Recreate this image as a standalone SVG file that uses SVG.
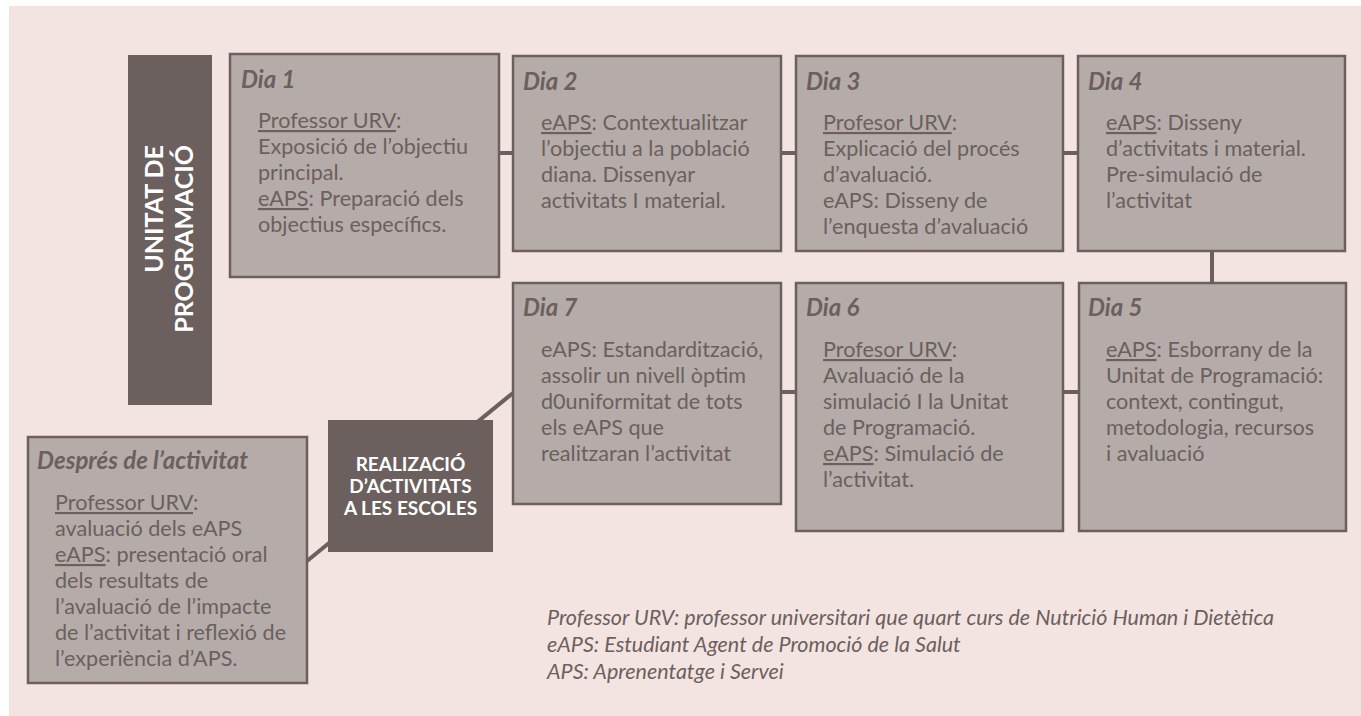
<svg xmlns="http://www.w3.org/2000/svg" width="1361" height="716" viewBox="0 0 1361 716">
<style>
.bg{fill:#f4e4e1}
.box{fill:#b5acaa;stroke:#6b605d;stroke-width:2.5}
.dark{fill:#6b605d}
.conn{stroke:#6b605d;stroke-width:4;fill:none}
text{font-family:Lato,"Liberation Sans",sans-serif;fill:#6b605d}
.title{font-size:24px;font-style:italic;font-weight:bold}
.body{font-size:21.6px}
.u{text-decoration:underline}
.lbl{fill:#ffffff;font-weight:bold}
.foot{font-size:21.5px;font-style:italic}
</style>
<rect x="0" y="0" width="1361" height="716" fill="#ffffff"/>
<rect class="bg" x="9" y="6" width="1352" height="710"/>
<g id="connectors">
<line class="conn" x1="499" y1="153" x2="513" y2="153"/>
<line class="conn" x1="781" y1="153" x2="796" y2="153"/>
<line class="conn" x1="1063" y1="153" x2="1078" y2="153"/>
<line class="conn" x1="1212" y1="251" x2="1212" y2="283"/>
<line class="conn" x1="1063" y1="392" x2="1079" y2="392"/>
<line class="conn" x1="781" y1="392" x2="796" y2="392"/>
<line class="conn" x1="513" y1="393" x2="307" y2="561"/>
</g>
<g id="unitat">
<rect class="dark" x="128" y="55" width="84" height="350"/>
<text class="lbl" font-size="25" text-anchor="end" transform="translate(163,145) rotate(-90)"><tspan x="0" y="0">UNITAT DE</tspan><tspan x="0" y="30">PROGRAMACIÓ</tspan></text>
</g>
<g id="dia1">
<rect class="box" x="230" y="54" width="269" height="223"/>
<text class="title" x="241" y="88">Dia 1</text>
<text class="body"><tspan x="258" y="128"><tspan class="u">Professor URV</tspan>:</tspan><tspan x="258" y="154">Exposició de l’objectiu</tspan><tspan x="258" y="180">principal.</tspan><tspan x="258" y="206"><tspan class="u">eAPS</tspan>: Preparació dels</tspan><tspan x="258" y="232">objectius específics.</tspan></text>
</g>
<g id="dia2">
<rect class="box" x="513" y="56" width="268" height="195"/>
<text class="title" x="523" y="90">Dia 2</text>
<text class="body"><tspan x="541" y="130"><tspan class="u">eAPS</tspan>: Contextualitzar</tspan><tspan x="541" y="156">l’objectiu a la població</tspan><tspan x="541" y="182">diana. Dissenyar</tspan><tspan x="541" y="208">activitats I material.</tspan></text>
</g>
<g id="dia3">
<rect class="box" x="796" y="56" width="267" height="195"/>
<text class="title" x="806" y="90">Dia 3</text>
<text class="body"><tspan x="823" y="130"><tspan class="u">Profesor URV</tspan>:</tspan><tspan x="823" y="156">Explicació del procés</tspan><tspan x="823" y="182">d’avaluació.</tspan><tspan x="823" y="208">eAPS: Disseny de</tspan><tspan x="823" y="234">l’enquesta d’avaluació</tspan></text>
</g>
<g id="dia4">
<rect class="box" x="1078" y="56" width="267" height="195"/>
<text class="title" x="1088" y="90">Dia 4</text>
<text class="body"><tspan x="1106" y="130"><tspan class="u">eAPS</tspan>: Disseny</tspan><tspan x="1106" y="156">d’activitats i material.</tspan><tspan x="1106" y="182">Pre-simulació de</tspan><tspan x="1106" y="208">l’activitat</tspan></text>
</g>
<g id="dia5">
<rect class="box" x="1079" y="283" width="267" height="248"/>
<text class="title" x="1088" y="316">Dia 5</text>
<text class="body"><tspan x="1106" y="357"><tspan class="u">eAPS</tspan>: Esborrany de la</tspan><tspan x="1106" y="383">Unitat de Programació:</tspan><tspan x="1106" y="409">context, contingut,</tspan><tspan x="1106" y="435">metodologia, recursos</tspan><tspan x="1106" y="461">i avaluació</tspan></text>
</g>
<g id="dia6">
<rect class="box" x="796" y="283" width="267" height="248"/>
<text class="title" x="806" y="316">Dia 6</text>
<text class="body"><tspan x="823" y="357"><tspan class="u">Profesor URV</tspan>:</tspan><tspan x="823" y="383">Avaluació de la</tspan><tspan x="823" y="409">simulació I la Unitat</tspan><tspan x="823" y="435">de Programació.</tspan><tspan x="823" y="461"><tspan class="u">eAPS</tspan>: Simulació de</tspan><tspan x="823" y="487">l’activitat.</tspan></text>
</g>
<g id="dia7">
<rect class="box" x="513" y="283" width="268" height="221"/>
<text class="title" x="523" y="316">Dia 7</text>
<text class="body"><tspan x="541" y="357">eAPS: Estandardització,</tspan><tspan x="541" y="383">assolir un nivell òptim</tspan><tspan x="541" y="409">d0uniformitat de tots</tspan><tspan x="541" y="435">els eAPS que</tspan><tspan x="541" y="461">realitzaran l’activitat</tspan></text>
</g>
<g id="realitzacio">
<rect class="dark" x="328" y="420" width="165" height="132"/>
<text class="lbl" font-size="19" text-anchor="middle"><tspan x="410.5" y="471">REALIZACIÓ</tspan><tspan x="410.5" y="493">D’ACTIVITATS</tspan><tspan x="410.5" y="515">A LES ESCOLES</tspan></text>
</g>
<g id="despres">
<rect class="box" x="28" y="437" width="279" height="246"/>
<text class="title" x="37" y="469">Després de l’activitat</text>
<text class="body"><tspan x="55" y="510"><tspan class="u">Professor URV</tspan>:</tspan><tspan x="55" y="536">avaluació dels eAPS</tspan><tspan x="55" y="562"><tspan class="u">eAPS</tspan>: presentació oral</tspan><tspan x="55" y="588">dels resultats de</tspan><tspan x="55" y="614">l’avaluació de l’impacte</tspan><tspan x="55" y="640">de l’activitat i reflexió de</tspan><tspan x="55" y="666">l’experiència d’APS.</tspan></text>
</g>
<g id="legend">
<text class="foot"><tspan x="547" y="625">Professor URV: professor universitari que quart curs de Nutrició Human i Dietètica</tspan><tspan x="547" y="652">eAPS: Estudiant Agent de Promoció de la Salut</tspan><tspan x="547" y="679">APS: Aprenentatge i Servei</tspan></text>
</g>
</svg>
